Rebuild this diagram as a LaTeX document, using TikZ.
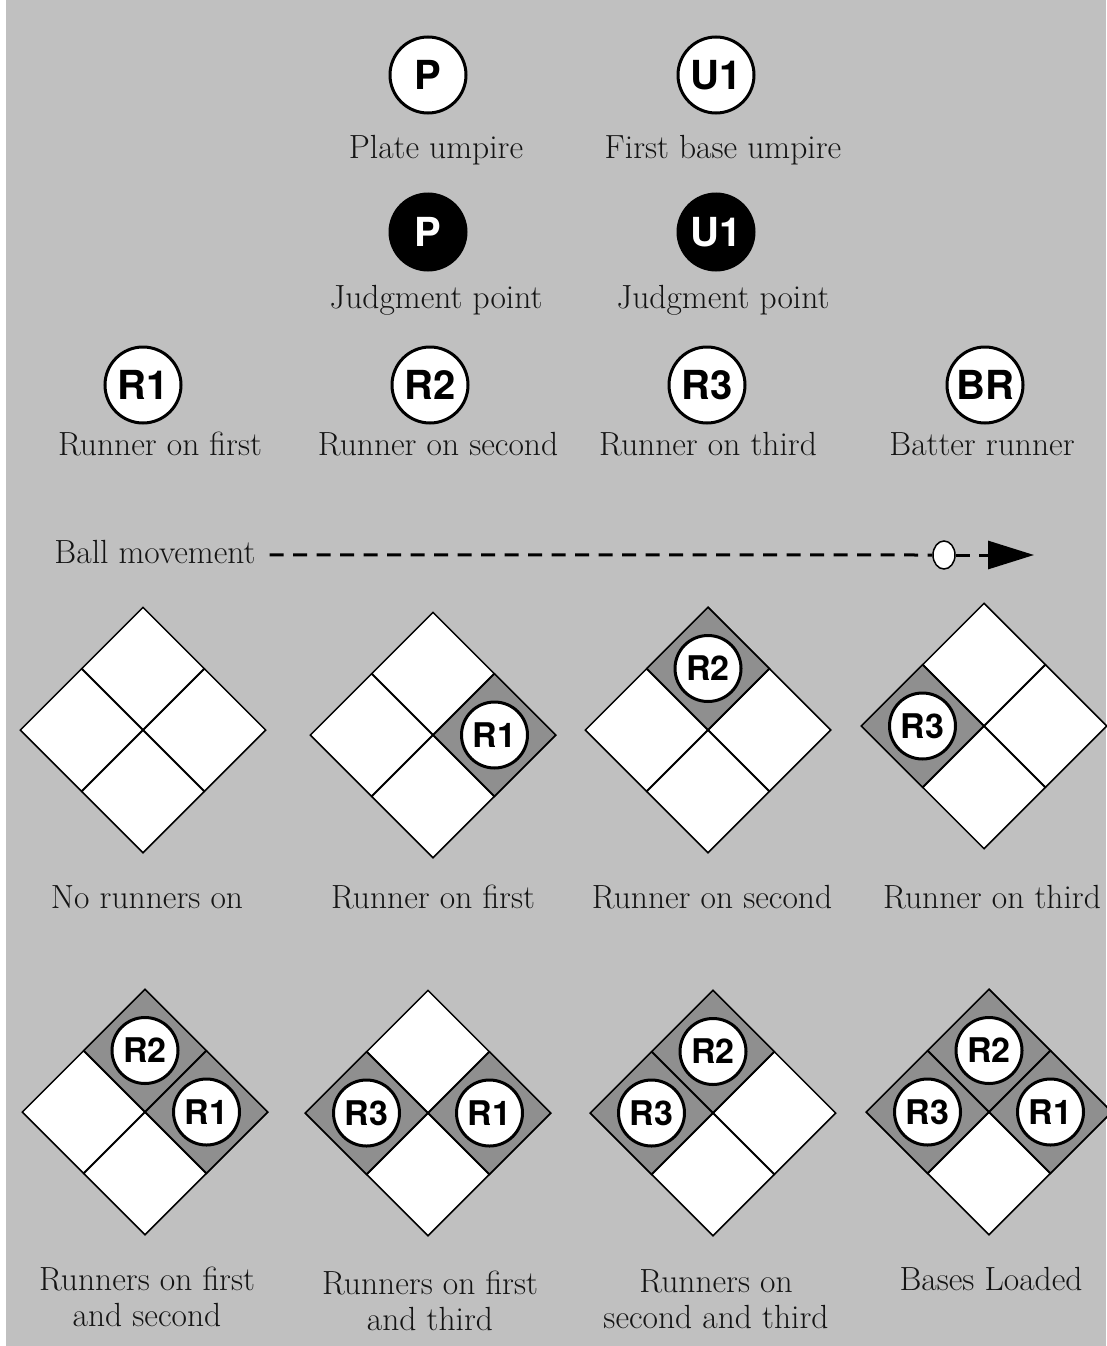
\documentclass[tikz,border=0pt]{standalone}
\usepackage{fontspec}
\usepackage{xcolor}
\usepackage{tikz}
\usetikzlibrary{shapes.geometric, arrows.meta}

\newfontfamily\markfont{TeX Gyre Heros}
\definecolor{fieldbg}{RGB}{192,192,192}
\definecolor{occupied}{RGB}{143,143,143}
\definecolor{inktext}{RGB}{20,20,20}

\begin{document}
\begin{tikzpicture}[
  x=1pt, y=-1pt,
  token/.style = {
    circle, draw=black, line width=3pt, fill=white,
    minimum size=76pt, inner sep=0pt,
    font=\markfont\bfseries\fontsize{40}{40}\selectfont
  },
  judge/.style  = {token, fill=black, text=white},
  runr/.style   = {token, minimum size=66pt,
                   font=\markfont\bfseries\fontsize{34}{34}\selectfont},
  bag/.style    = {diamond, aspect=1, draw=black, line width=1.5pt, fill=white,
                   minimum width=123pt, minimum height=123pt, inner sep=0pt},
  lbl/.style    = {font=\fontsize{33.5}{36}\selectfont, text=inktext,
                   text height=23pt, text depth=6.5pt, inner sep=0pt},
  lbl2/.style   = {font=\fontsize{33.5}{36}\selectfont, text=inktext,
                   align=center, inner sep=0pt},
  dashline/.style = {line width=3pt, dash pattern=on 14pt off 9.5pt}
]

\useasboundingbox (0,0) rectangle (1106,1346);
\fill[white] (0,0) rectangle (1106,1346);
\fill[fieldbg] (6,0) rectangle (1106,1346);

%% ---- Umpires ----
\node[token] (pu) at (428,75) {P};
\node[token] (u1) at (716,75) {U1};
\node[lbl] (pulbl) at (436,149.75) {Plate umpire};
\node[lbl] (u1lbl) at (723,149.75) {First base umpire};

\node[judge] (pj) at (428,232) {P};
\node[judge] (u1j) at (716,232) {U1};
\node[lbl] (pjlbl) at (436,299.75) {Judgment point};
\node[lbl] (u1jlbl) at (723,299.75) {Judgment point};

%% ---- Runners ----
\node[token] (r1) at (143,385) {R1};
\node[token] (r2) at (430,385) {R2};
\node[token] (r3) at (707,385) {R3};
\node[token] (br) at (985,385) {BR};
\node[lbl] (r1lbl) at (160,446.75) {Runner on first};
\node[lbl] (r2lbl) at (438,446.75) {Runner on second};
\node[lbl] (r3lbl) at (708,446.75) {Runner on third};
\node[lbl] (brlbl) at (982,446.75) {Batter runner};

%% ---- Ball movement ----
\node[lbl] (ball) at (155,554.75) {Ball movement};
\node[ellipse, draw=black, line width=1.5pt, fill=white,
      minimum width=22pt, minimum height=28pt, inner sep=0pt] (balldot) at (944,555) {};
\coordinate (balltip) at (1034,555);

\draw[dashline] ([xshift=14pt]ball.east) -- (balldot.west);
\draw[dashline, -{Triangle[length=46pt, width=28pt]}] (balldot.east) -- (balltip);

%% ---- Diamonds (1 = first, 2 = second, 3 = third, h = home) ----
\foreach \i/\x/\y in {1/143/730, 2/433/735, 3/708/730, 4/984/726,
                      5/145/1112, 6/428/1113, 7/713/1113, 8/989/1112} {
  \node[bag] (d\i-1) at (\x+61.5,\y) {};
  \node[bag] (d\i-2) at (\x,\y-61.5) {};
  \node[bag] (d\i-3) at (\x-61.5,\y) {};
  \node[bag] (d\i-h) at (\x,\y+61.5) {};
}

\foreach \d/\b/\r in {2/1/R1, 3/2/R2, 4/3/R3, 5/2/R2, 5/1/R1, 6/3/R3, 6/1/R1,
                      7/2/R2, 7/3/R3, 8/2/R2, 8/3/R3, 8/1/R1} {
  \node[bag, fill=occupied] (q\d-\b) at (d\d-\b) {};
  \node[runr] (m\d-\b) at (q\d-\b) {\r};
}

%% ---- Captions ----
\node[lbl] (c1) at (147,899.75) {No runners on};
\node[lbl] (c2) at (433,899.75) {Runner on first};
\node[lbl] (c3) at (712,899.75) {Runner on second};
\node[lbl] (c4) at (992,899.75) {Runner on third};

\node[lbl2] (c5) at (147,1297) {Runners on first\\and second};
\node[lbl2] (c6) at (430,1301) {Runners on first\\and third};
\node[lbl2] (c7) at (716,1299) {Runners on\\second and third};
\node[lbl] (c8) at (991,1281.75) {Bases Loaded};

\end{tikzpicture}
\end{document}
